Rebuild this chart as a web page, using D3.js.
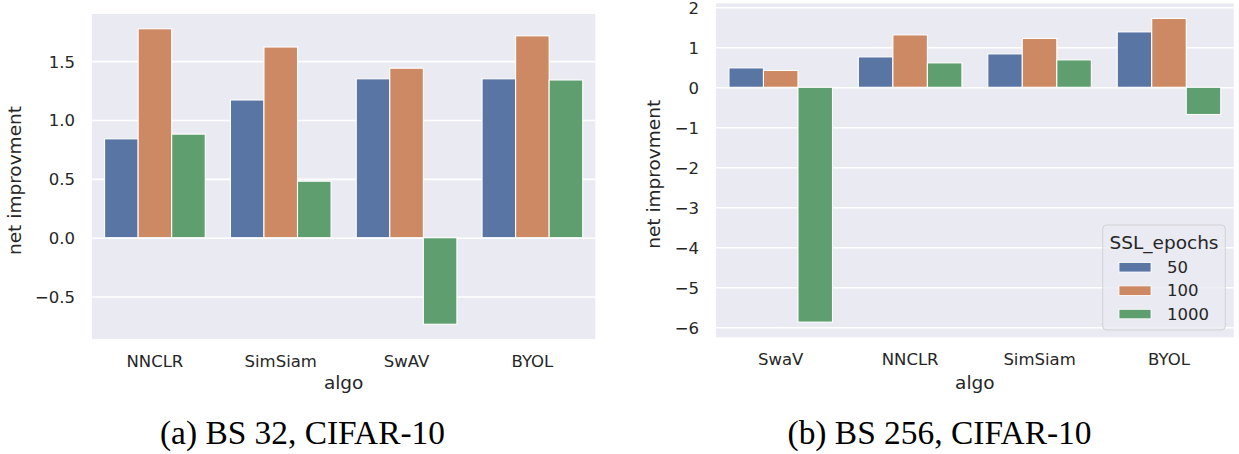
<!DOCTYPE html>
<html>
<head>
<meta charset="utf-8">
<script src="https://cdn.jsdelivr.net/npm/d3@7"></script>
<style>
  html, body { margin: 0; padding: 0; background: #ffffff; }
  svg { display: block; }
  .tick text { font-family: "DejaVu Sans", sans-serif; fill: #262626; }
</style>
</head>
<body>
<svg id="fig" width="1239" height="454"></svg>
<script>
// ---- data ----
const epochKeys = ["50", "100", "1000"];

// (a) BS 32, CIFAR-10
const algosA = ["NNCLR", "SimSiam", "SwAV", "BYOL"];
const epochs50A = [0.84, 1.17, 1.35, 1.35];
const epochs100A = [1.775, 1.62, 1.44, 1.715];
const epochs1000A = [0.88, 0.48, -0.735, 1.34];
const yTicksA = [-0.5, 0.0, 0.5, 1.0, 1.5];

// (b) BS 256, CIFAR-10
const algosB = ["SwaV", "NNCLR", "SimSiam", "BYOL"];
const epochs50B = [0.485, 0.76, 0.835, 1.385];
const epochs100B = [0.42, 1.31, 1.22, 1.72];
const epochs1000B = [-5.87, 0.61, 0.685, -0.68];
const yTicksB = [-6, -5, -4, -3, -2, -1, 0, 1, 2];

// ---- style ----
const colors = ["#5975a4", "#cc8963", "#5f9e6e"];
const panelBg = "#eaeaf2";
const textColor = "#262626";
const tickFont = 16.5;
const labelFont = 18.5;
const minus = s => s.replace("-", "\u2212");

const svg = d3.select("#fig");

function drawPanel(cfg) {
  const { algos, series, yTicks, fmt, box, showLegend, caption } = cfg;
  const all = series.flat();
  const lo = d3.min(all), hi = d3.max(all);
  const pad = (hi - lo) * 0.05;

  const x = d3.scaleBand().domain(algos).range([box.x0, box.x1])
    .paddingInner(0.2).paddingOuter(0.1);
  const xHue = d3.scaleBand().domain(epochKeys).range([0, x.bandwidth()]);
  const y = d3.scaleLinear().domain([lo - pad, hi + pad]).range([box.y1, box.y0]);

  const g = svg.append("g");

  g.append("rect")
    .attr("x", box.x0).attr("y", box.y0)
    .attr("width", box.x1 - box.x0).attr("height", box.y1 - box.y0)
    .attr("fill", panelBg);

  // horizontal grid + tick labels
  const yAxis = g.append("g")
    .attr("transform", `translate(${box.x0},0)`)
    .call(d3.axisLeft(y).tickValues(yTicks).tickFormat(d => minus(fmt(d)))
      .tickSize(-(box.x1 - box.x0)).tickPadding(17));
  yAxis.select(".domain").remove();
  yAxis.selectAll(".tick line").attr("stroke", "#ffffff").attr("stroke-width", 1.6);
  yAxis.selectAll(".tick text").attr("font-size", tickFont).attr("dy", "0.36em");

  // category tick labels
  const xAxis = g.append("g")
    .attr("transform", `translate(0,${box.y1})`)
    .call(d3.axisBottom(x).tickSize(0).tickPadding(16));
  xAxis.select(".domain").remove();
  xAxis.selectAll(".tick text").attr("font-size", tickFont).attr("dy", "0.71em");

  // bars
  epochKeys.forEach((k, si) => {
    g.append("g").selectAll("rect")
      .data(algos.map((a, i) => ({ algo: a, v: series[si][i] })))
      .join("rect")
      .attr("x", d => x(d.algo) + xHue(k))
      .attr("width", xHue.bandwidth())
      .attr("y", d => y(Math.max(0, d.v)))
      .attr("height", d => Math.abs(y(d.v) - y(0)))
      .attr("fill", colors[si])
      .attr("stroke", "#ffffff")
      .attr("stroke-width", 1.1);
  });

  // axis titles
  const midX = (box.x0 + box.x1) / 2;
  const midY = (box.y0 + box.y1) / 2;
  g.append("text")
    .attr("x", midX).attr("y", 389)
    .attr("text-anchor", "middle")
    .attr("font-family", "DejaVu Sans, sans-serif")
    .attr("font-size", labelFont).attr("fill", textColor)
    .text("algo");
  g.append("text")
    .attr("transform", `translate(${box.yLabelX},${midY + 4}) rotate(-90)`)
    .attr("text-anchor", "middle")
    .attr("font-family", "DejaVu Sans, sans-serif")
    .attr("font-size", labelFont).attr("fill", textColor)
    .text("net improvment");

  // caption
  svg.append("text")
    .attr("x", caption.x).attr("y", 444)
    .attr("text-anchor", "middle")
    .attr("font-family", "Liberation Serif, DejaVu Serif, serif")
    .attr("font-size", 33).attr("fill", "#000000")
    .attr("textLength", caption.w).attr("lengthAdjust", "spacingAndGlyphs")
    .text(caption.text);

  if (showLegend) {
    const L = { x: 1102.7, y: 225, w: 122.6, h: 105 };
    const lg = g.append("g");
    lg.append("rect")
      .attr("x", L.x).attr("y", L.y).attr("width", L.w).attr("height", L.h)
      .attr("rx", 4).attr("ry", 4)
      .attr("fill", panelBg).attr("fill-opacity", 0.8)
      .attr("stroke", "#cccccc").attr("stroke-opacity", 0.8).attr("stroke-width", 1);
    lg.append("text")
      .attr("x", L.x + L.w / 2).attr("y", L.y + 24)
      .attr("text-anchor", "middle")
      .attr("font-family", "DejaVu Sans, sans-serif")
      .attr("font-size", labelFont).attr("fill", textColor)
      .text("SSL_epochs");
    epochKeys.forEach((k, i) => {
      const rowY = L.y + 37.5 + i * 23.4;
      lg.append("rect")
        .attr("x", 1119).attr("y", rowY).attr("width", 32).attr("height", 9.5)
        .attr("fill", colors[i]).attr("stroke", "#ffffff").attr("stroke-width", 0.8);
      lg.append("text")
        .attr("x", 1167).attr("y", rowY + 10.5)
        .attr("font-family", "DejaVu Sans, sans-serif")
        .attr("font-size", tickFont).attr("fill", textColor)
        .text(k);
    });
  }
}

drawPanel({
  algos: algosA,
  series: [epochs50A, epochs100A, epochs1000A],
  yTicks: yTicksA,
  fmt: d3.format(".1f"),
  box: { x0: 92, x1: 595.3, y0: 14, y1: 339, yLabelX: 21 },
  showLegend: false,
  caption: { x: 302.5, w: 285, text: "(a) BS 32, CIFAR-10" }
});

drawPanel({
  algos: algosB,
  series: [epochs50B, epochs100B, epochs1000B],
  yTicks: yTicksB,
  fmt: d3.format("d"),
  box: { x0: 716, x1: 1233.7, y0: 3.3, y1: 337.3, yLabelX: 660 },
  showLegend: true,
  caption: { x: 939.5, w: 304, text: "(b) BS 256, CIFAR-10" }
});
</script>
</body>
</html>
